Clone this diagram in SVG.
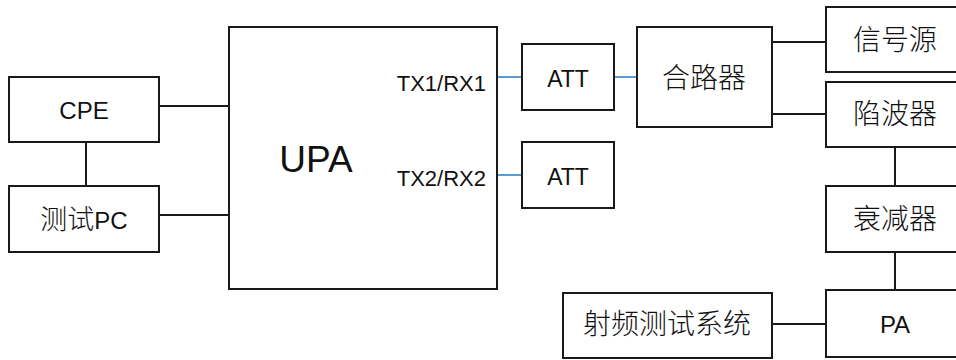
<svg xmlns="http://www.w3.org/2000/svg" width="956" height="360" viewBox="0 0 956 360">
<style>
.box{fill:#fff;stroke:#1a1a1a;stroke-width:2}
.ln{stroke:#1a1a1a;stroke-width:2;fill:none}
.bl{stroke:#5b9bd5;stroke-width:2;fill:none}
text{font-family:"Liberation Sans","Noto Sans CJK SC",sans-serif;fill:#111;text-anchor:middle}
.cjk{font-size:28px;font-weight:300}
.lat{font-size:22px}
.big{font-size:24px}
</style>
<rect width="956" height="360" fill="#fff"/>
<g id="connectors">
<line class="ln" x1="159" y1="106" x2="229" y2="106"/>
<line class="ln" x1="159" y1="215" x2="229" y2="215"/>
<line class="ln" x1="86" y1="142" x2="86" y2="186"/>
<line class="bl" x1="497" y1="77" x2="522" y2="77"/>
<line class="bl" x1="497" y1="175" x2="522" y2="175"/>
<line class="bl" x1="614" y1="77" x2="637" y2="77"/>
<line class="ln" x1="772" y1="42" x2="826" y2="42"/>
<line class="ln" x1="772" y1="114" x2="826" y2="114"/>
<line class="ln" x1="895" y1="147" x2="895" y2="186"/>
<line class="ln" x1="895" y1="252" x2="895" y2="290"/>
<line class="ln" x1="772" y1="324" x2="826" y2="324"/>
</g>
<g id="cpe"><rect class="box" x="9" y="77" width="150" height="65"/><text class="big" x="84" y="119">CPE</text></g>
<g id="pc"><rect class="box" x="9" y="186" width="150" height="66"/><text class="big" x="84" y="229"><tspan font-size="27" font-weight="300">测试</tspan>PC</text></g>
<g id="upa"><rect class="box" x="229" y="27" width="268" height="262"/>
<text x="316" y="172" font-size="37">UPA</text>
<text class="lat" x="486" y="91" style="text-anchor:end">TX1/RX1</text>
<text class="lat" x="486" y="186" style="text-anchor:end">TX2/RX2</text></g>
<g id="att1"><rect class="box" x="522" y="44" width="92" height="66"/><text x="568" y="87" font-size="23">ATT</text></g>
<g id="att2"><rect class="box" x="522" y="142" width="92" height="66"/><text x="568" y="185" font-size="23">ATT</text></g>
<g id="combiner"><rect class="box" x="637" y="27" width="135" height="100"/><text class="cjk" x="704" y="88">合路器</text></g>
<g id="signal"><rect class="box" x="826" y="7" width="138" height="65"/><text class="cjk" x="895" y="50">信号源</text></g>
<g id="notch"><rect class="box" x="826" y="82" width="138" height="65"/><text class="cjk" x="895" y="124">陷波器</text></g>
<g id="attenuator"><rect class="box" x="826" y="186" width="138" height="66"/><text class="cjk" x="895" y="229">衰减器</text></g>
<g id="pa"><rect class="box" x="826" y="290" width="138" height="67"/><text class="big" x="895" y="333">PA</text></g>
<g id="rftest"><rect class="box" x="563" y="293" width="209" height="65"/><text class="cjk" x="667" y="334">射频测试系统</text></g>
</svg>
